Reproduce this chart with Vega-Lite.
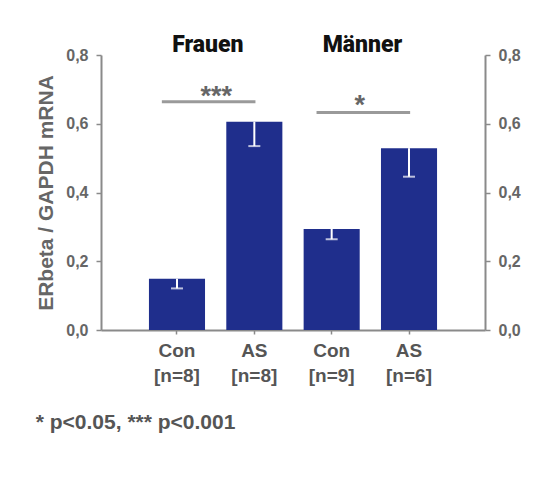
{
  "$schema": "https://vega.github.io/schema/vega-lite/v6.json",
  "width": 384,
  "height": 275,
  "autosize": {"type": "none"},
  "padding": {"left": 101, "top": 55, "right": 62, "bottom": 147},
  "background": "white",
  "config": {
    "view": {"stroke": null},
    "font": "Liberation Sans, Arial, sans-serif",
    "axis": {"grid": false, "domainColor": "#8a8a8a", "tickColor": "#8a8a8a", "domainWidth": 2, "tickWidth": 1.5}
  },
  "datasets": {
    "bars": [
      {"bar": "Con [n=8]", "group": "Frauen", "value": 0.149, "lower": 0.121},
      {"bar": "AS [n=8]", "group": "Frauen", "value": 0.606, "lower": 0.535},
      {"bar": "Con [n=9]", "group": "Männer", "value": 0.294, "lower": 0.264},
      {"bar": "AS [n=6]", "group": "Männer", "value": 0.529, "lower": 0.446}
    ],
    "sig": [
      {"from": "Con [n=8]", "to": "AS [n=8]", "y": 0.664, "label": "***", "group": "Frauen"},
      {"from": "Con [n=9]", "to": "AS [n=6]", "y": 0.633, "label": "*", "group": "Männer"}
    ]
  },
  "title": {
    "text": "* p<0.05, *** p<0.001",
    "orient": "bottom",
    "anchor": "start",
    "frame": "bounds",
    "fontSize": 21,
    "fontWeight": "bold",
    "color": "#555555",
    "offset": 27
  },
  "layer": [
    {
      "data": {"name": "bars"},
      "mark": {"type": "bar", "color": "#1f2e8c"},
      "encoding": {
        "x": {
          "field": "bar", "type": "nominal", "sort": null, "title": null,
          "scale": {"paddingInner": 0.275, "paddingOuter": 0.62},
          "axis": {
            "labelExpr": "split(datum.label, ' ')",
            "labelAngle": 0,
            "labelFontSize": 19,
            "labelFontWeight": "bold",
            "labelColor": "#555555",
            "labelLineHeight": 25,
            "labelPadding": 7,
            "tickSize": 4
          }
        },
        "y": {
          "field": "value", "type": "quantitative",
          "scale": {"domain": [0, 0.8], "nice": false},
          "axis": {
            "orient": "left",
            "values": [0, 0.2, 0.4, 0.6, 0.8],
            "format": ".1f",
            "labelExpr": "replace(datum.label, '.', ',')",
            "title": "ERbeta / GAPDH mRNA",
            "titleFontSize": 21,
            "titleFontWeight": "bold",
            "titleColor": "#666666",
            "titlePadding": 9,
            "labelFontSize": 16,
            "labelFontWeight": "bold",
            "labelColor": "#666666",
            "labelPadding": 8,
            "tickSize": 5
          }
        }
      }
    },
    {
      "data": {"name": "bars"},
      "mark": {"type": "rule", "color": "white", "strokeWidth": 2},
      "encoding": {
        "x": {"field": "bar", "type": "nominal", "sort": null, "title": null},
        "y": {
          "field": "value", "type": "quantitative",
          "axis": {
            "orient": "right",
            "values": [0, 0.2, 0.4, 0.6, 0.8],
            "format": ".1f",
            "labelExpr": "replace(datum.label, '.', ',')",
            "title": null,
            "labelFontSize": 16,
            "labelFontWeight": "bold",
            "labelColor": "#666666",
            "labelPadding": 8,
            "tickSize": 5
          }
        },
        "y2": {"field": "lower"}
      }
    },
    {
      "data": {"name": "bars"},
      "mark": {"type": "tick", "color": "white", "size": 12, "thickness": 2},
      "encoding": {
        "x": {"field": "bar", "type": "nominal", "sort": null, "title": null},
        "y": {"field": "lower", "type": "quantitative", "axis": null}
      }
    },
    {
      "data": {"name": "sig"},
      "mark": {"type": "rule", "color": "#9a9a9a", "strokeWidth": 3},
      "encoding": {
        "x": {"field": "from", "type": "nominal", "sort": null, "title": null, "bandPosition": 0.23},
        "x2": {"field": "to", "bandPosition": 0.52},
        "y": {"field": "y", "type": "quantitative", "axis": null}
      }
    },
    {
      "data": {"name": "sig"},
      "transform": [{"filter": "datum.group === 'Frauen'"}],
      "mark": {"type": "text", "fontSize": 27, "fontWeight": "bold", "color": "#666666", "baseline": "alphabetic", "dy": 3},
      "encoding": {
        "x": {"field": "from", "type": "nominal", "sort": null, "title": null, "bandPosition": 1.2},
        "y": {"field": "y", "type": "quantitative", "axis": null},
        "text": {"field": "label"}
      }
    },
    {
      "data": {"name": "sig"},
      "transform": [{"filter": "datum.group === 'Männer'"}],
      "mark": {"type": "text", "fontSize": 27, "fontWeight": "bold", "color": "#666666", "baseline": "alphabetic", "dy": 2},
      "encoding": {
        "x": {"field": "from", "type": "nominal", "sort": null, "title": null, "bandPosition": 1.0},
        "y": {"field": "y", "type": "quantitative", "axis": null},
        "text": {"field": "label"}
      }
    },
    {
      "data": {"name": "sig"},
      "mark": {"type": "text", "fontSize": 23, "fontWeight": 900, "color": "#111111", "baseline": "alphabetic", "dy": -3, "font": "Roboto, Liberation Sans, sans-serif"},
      "encoding": {
        "x": {"field": "from", "type": "nominal", "sort": null, "title": null, "bandPosition": 1.05},
        "y": {"datum": 0.8, "type": "quantitative", "axis": null},
        "text": {"field": "group"}
      }
    }
  ],
  "resolve": {"axis": {"y": "independent"}}
}
